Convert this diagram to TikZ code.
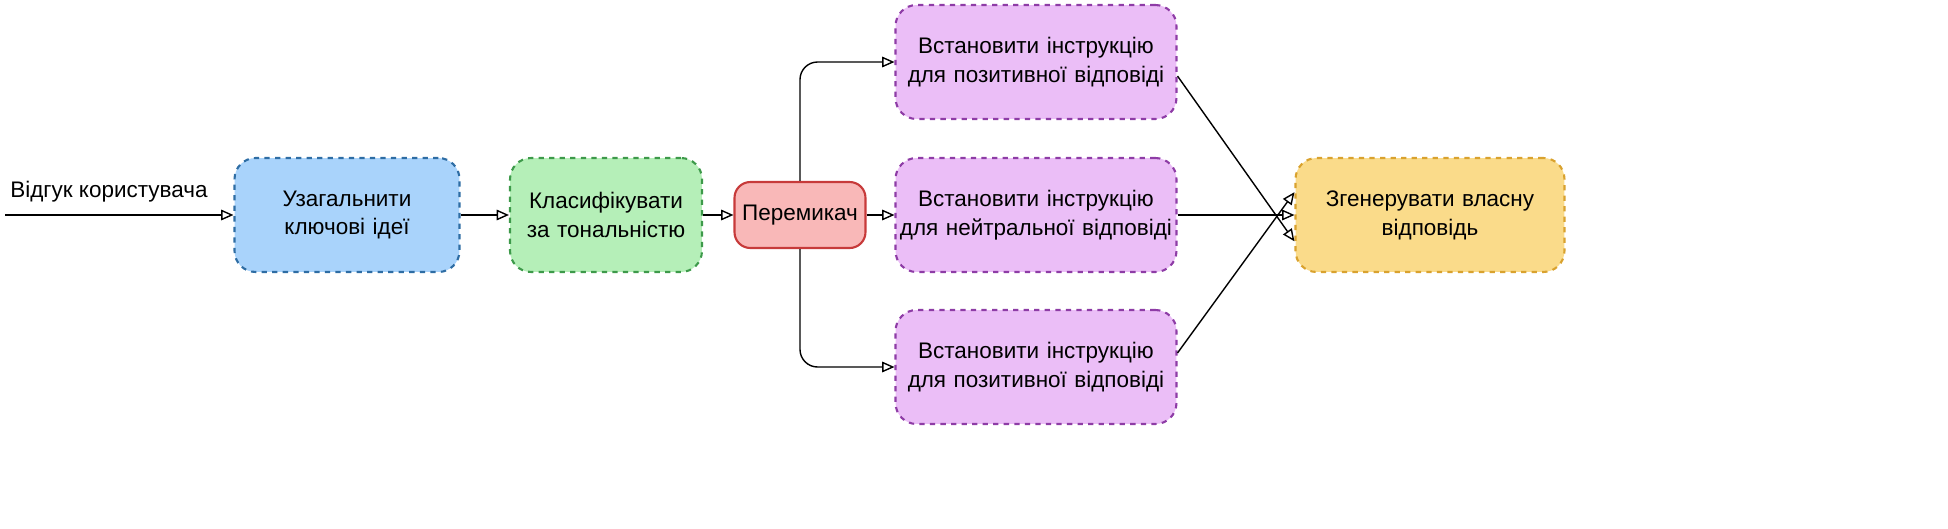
\documentclass[tikz,border=0pt]{standalone}
\usepackage{fontspec}
\setmainfont{Liberation Sans}
\usetikzlibrary{arrows.meta}
\definecolor{bluefill}{HTML}{A9D3FB}\definecolor{blueline}{HTML}{2E6DA4}
\definecolor{greenfill}{HTML}{B5EFB8}\definecolor{greenline}{HTML}{3D9A4A}
\definecolor{redfill}{HTML}{F9B8B8}\definecolor{redline}{HTML}{C73A3A}
\definecolor{purplefill}{HTML}{EBBEF7}\definecolor{purpleline}{HTML}{8E3CA6}
\definecolor{yellowfill}{HTML}{FADB8A}\definecolor{yellowline}{HTML}{D9A22E}
\begin{document}
\begin{tikzpicture}[x=0.02cm,y=-0.02cm,
  box/.style={draw,very thick,dashed,rounded corners=12pt,align=center,
    font=\fontsize{12.8}{16.5}\selectfont,inner sep=0pt},
  arr/.style={-{Stealth[length=7pt,width=6pt,inset=0pt,open]},thick}]
  % boxes
  \node[font=\fontsize{12.8}{16.5}\selectfont,anchor=south west,inner sep=0pt] (Feedback) at (10,203) {Відгук користувача};
  \coordinate (In) at (5,215);
  \node[box,fill=bluefill,draw=blueline,text width=4.5cm,minimum height=2.28cm] (Sum) at (347,215) {Узагальнити\\ключові ідеї};
  \node[box,fill=greenfill,draw=greenline,text width=3.84cm,minimum height=2.28cm] (Cls) at (606,215) {Класифікувати\\за тональністю};
  \node[box,fill=redfill,draw=redline,solid,rounded corners=9pt,text width=2.62cm,minimum height=1.32cm] (Sw) at (800,215) {Перемикач};
  \foreach \n/\y/\t in {Pos/62/позитивної,Neu/215/нейтральної,PosB/367/позитивної}
    \node[box,fill=purplefill,draw=purpleline,text width=5.62cm,minimum height=2.28cm] (\n) at (1036,\y) {Встановити інструкцію\\для \t\ відповіді};
  \node[box,fill=yellowfill,draw=yellowline,text width=5.38cm,minimum height=2.28cm] (Gen) at (1430,215) {Згенерувати власну\\відповідь};
  % connectors
  \draw[arr] (In) -- (Sum);
  \draw[arr] (Sum) -- (Cls);
  \draw[arr] (Cls) -- (Sw);
  \draw[arr] (Sw) -- (Neu);
  \draw[arr,rounded corners=10pt] (Sw.north) -- (Sw.north |- Pos) -- (Pos);
  \draw[arr,rounded corners=10pt] (Sw.south) -- (Sw.south |- PosB) -- (PosB);
  \draw[arr] ([yshift=-8]Pos.east) -- ([yshift=-15]Gen.west);
  \draw[arr] (Neu) -- (Gen);
  \draw[arr] ([yshift=8]PosB.east) -- ([yshift=13]Gen.west);
  \pgfresetboundingbox
  \useasboundingbox (0,0) rectangle (1948,528);
\end{tikzpicture}
\end{document}
